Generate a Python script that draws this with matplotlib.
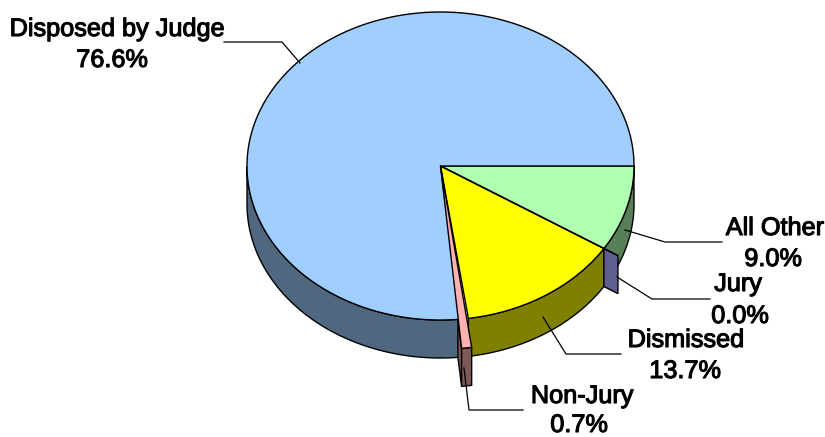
import numpy as np
import matplotlib
matplotlib.use('Agg')
import matplotlib.pyplot as plt
from matplotlib.patches import Polygon
import matplotlib.patheffects as pe

# slices run clockwise from east
names = ['All Other', 'Jury', 'Dismissed', 'Non-Jury', 'Disposed by Judge']
shares = [9.0, 0.0, 13.7, 0.7, 76.6]
top_colors = ['#B0FFB0', '#A0A0FF', '#FFFF00', '#FFB0B0', '#A0CFFF']
side_colors = ['#588058', '#5F5F8F', '#808000', '#805858', '#50687F']
pull = [1.0, 1.086, 1.0, 1.19, 1.0]
nudge = [0, 0, 0, -2, 0]

cx, cy, rx, ry, depth = 440.5, 166, 193.5, 154, 38

leaders = {
    'Disposed by Judge': [(224, 42), (282, 42), (300, 63)],
    'All Other': [(722, 242), (665, 242), (625, 230)],
    'Jury': [(710, 299), (652, 299), (617, 277)],
    'Dismissed': [(621, 354), (566, 354), (543, 317)],
    'Non-Jury': [(523, 410), (469, 410), (464, 368)],
}
# label centre for the name line and for the percent line
label_pos = {
    'Disposed by Judge': (117, 29, 112, 60),
    'All Other': (775, 228, 773, 259),
    'Jury': (738, 284, 740, 316),
    'Dismissed': (686, 340, 685, 371),
    'Non-Jury': (582, 396, 579, 425),
}


def arc(t0, t1, k=1.0, dy=0, dx=0):
    t = np.radians(np.linspace(t0, t1, max(int(abs(t1 - t0)) * 2, 2)))
    return np.column_stack([cx + dx + k * rx * np.cos(t), cy + k * ry * np.sin(t) + dy])


def wall(pts, color, z):
    ax.add_patch(Polygon(pts, closed=True, fc=color, ec='black', lw=1, zorder=z))


fig = plt.figure(figsize=(8.25, 4.37), dpi=100)
ax = fig.add_axes([0, 0, 1, 1])
ax.set_xlim(0, 825)
ax.set_ylim(437, 0)
ax.axis('off')

edges = np.concatenate([[0], np.cumsum(shares)]) * 3.6

for i, name in enumerate(names):
    t0, t1 = edges[i], edges[i + 1]
    k = pull[i]
    # outer wall, only the front half of the disc shows
    a, b = max(t0, 0), min(t1, 180)
    if b > a:
        top = arc(a, b, k, 0, nudge[i])
        low = arc(a, b, k, depth, nudge[i])
        wall(np.vstack([top, low[::-1]]), side_colors[i], 4 if k > 1 else 1)
    # cut face of the pulled slices, from the rim outwards
    if k > 1:
        s = arc(t1, t1, 1.0, 0, nudge[i])[0]
        e = arc(t1, t1, k, 0, nudge[i])[0]
        wall([s, e, e + (0, depth), s + (0, depth)], side_colors[i], 2)

for i, name in enumerate(names):
    t0, t1 = edges[i], edges[i + 1]
    pts = np.vstack([[(cx, cy)], arc(t0, t1, pull[i], 0, nudge[i])])
    ax.add_patch(Polygon(pts, closed=True, fc=top_colors[i], ec='black', lw=1,
                         zorder=5 if pull[i] > 1 else 3, joinstyle='round'))

stroke = [pe.withStroke(linewidth=0.8, foreground='black')]
for i, name in enumerate(names):
    xs, ys = zip(*leaders[name])
    ax.plot(xs, ys, color='black', lw=0.9, zorder=6)
    x1, y1, x2, y2 = label_pos[name]
    ax.text(x1, y1, name, ha='center', va='center', fontsize=18.2,
            family='Liberation Sans', color='black', path_effects=stroke, zorder=7)
    ax.text(x2, y2, '%.1f%%' % shares[i], ha='center', va='center', fontsize=18.2,
            family='Liberation Sans', color='black', path_effects=stroke, zorder=7)

fig.savefig('out.png', dpi=100, facecolor='white')
